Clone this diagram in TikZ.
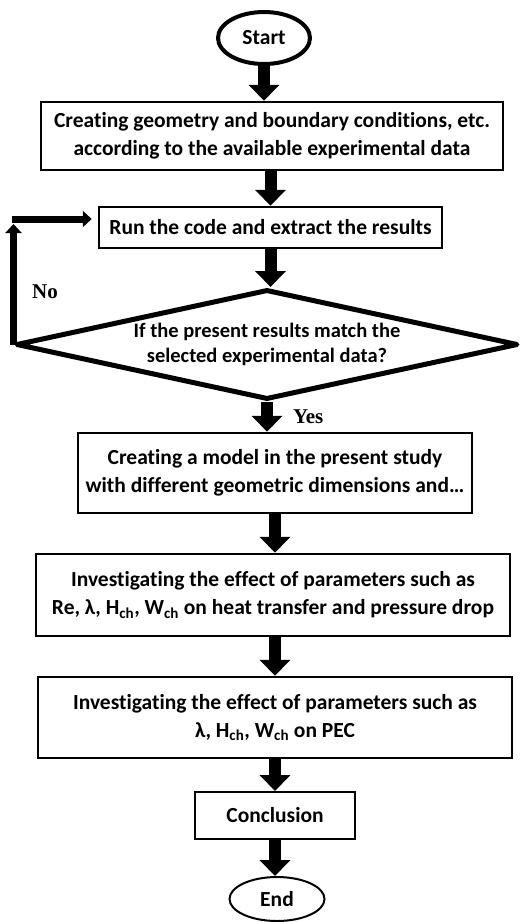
\documentclass[tikz,border=0pt]{standalone}
\usepackage{fontspec}
\setmainfont{Carlito}[Ligatures=NoCommon]
\newfontfamily\timesbf{Liberation Serif}
\usepackage{tikz}
\usetikzlibrary{shapes.geometric,arrows.meta}
\tikzset{
    % Flowchart styles
    txt/.style={font=\bfseries\fontsize{21.5}{28}\selectfont},
    block/.style={rectangle, draw, line width=2.5pt, align=center, inner sep=0pt, txt},
    terminal/.style={ellipse, draw, inner sep=0pt, txt},
    decision/.style={diamond, draw, line width=5pt, line join=round, aspect=4.4, align=center, inner sep=0pt, font=\bfseries\fontsize{20.5}{25}\selectfont},
    flow/.style={line width=12pt, -{Triangle[width=30pt,length=16pt]}},
    loopback/.style={line width=7pt, -{Triangle[width=16pt,length=9pt]}},
    answer/.style={font=\timesbf\bfseries\fontsize{21}{24}\selectfont, inner sep=0pt}
}
\begin{document}
\begin{tikzpicture}[x=1pt, y=-1pt]
\useasboundingbox (0,0) rectangle (528,922);

% Start
\node[terminal, line width=4pt, minimum width=92pt, minimum height=52pt] (start) at (264,38) {Start};

% Validation part
\node[block, minimum width=462pt, minimum height=68pt] (geometry) at (272,136)
    {Creating geometry and boundary conditions, etc.\\according to the available experimental data};
\node[block, minimum width=343pt, minimum height=41pt] (run) at (270.5,227.5)
    {Run the code and extract the results};
\node[decision, minimum width=502pt, minimum height=110pt] (check) at (267,344.5)
    {If the present results match the\\selected experimental data?};

% Parametric study
\node[block, minimum width=394pt, minimum height=80pt] (model) at (275,473)
    {Creating a model in the present study\\with different geometric dimensions and\ldots};
\node[block, minimum width=474pt, minimum height=82pt] (params) at (273,595)
    {Investigating the effect of parameters such as\\Re, λ, H\textsubscript{ch}, W\textsubscript{ch} on heat transfer and pressure drop};
\node[block, minimum width=474pt, minimum height=81pt] (pec) at (275,717.5)
    {Investigating the effect of parameters such as\\λ, H\textsubscript{ch}, W\textsubscript{ch} on PEC};
\node[block, line width=2pt, minimum width=160pt, minimum height=47pt] (conclusion) at (275,815.5)
    {Conclusion};

% End
\node[terminal, line width=2pt, minimum width=95pt, minimum height=44pt] (finish) at (277,899) {End};

% Arrows
\draw[flow] (start.south) -- (start.south |- geometry.north);
\draw[flow] (geometry.south -| run.south) -- (run.north);
\draw[flow] (run.south) -- (run.south |- check.north);
\draw[flow] (check.south) -- (check.south |- model.north)
    node[answer, midway, anchor=west, xshift=20pt] (yes) {Yes};
\draw[flow] (model.south) -- (model.south |- params.north);
\draw[flow] (params.south -| model.south) -- (model.south |- pec.north);
\draw[flow] (pec.south) -- (conclusion.north);
\draw[flow] (conclusion.south) -- (conclusion.south |- finish.north);

% Loop back when results do not match
\coordinate (corner) at (11.5,219);
\coordinate (looptip) at (15,224);
\draw[loopback] (check.west) -- (check.west |- looptip);
\draw[loopback, shorten >=6pt] (corner) -- (run.west |- corner);
\node[answer] (no) at (45,292) {No};
\end{tikzpicture}
\end{document}
